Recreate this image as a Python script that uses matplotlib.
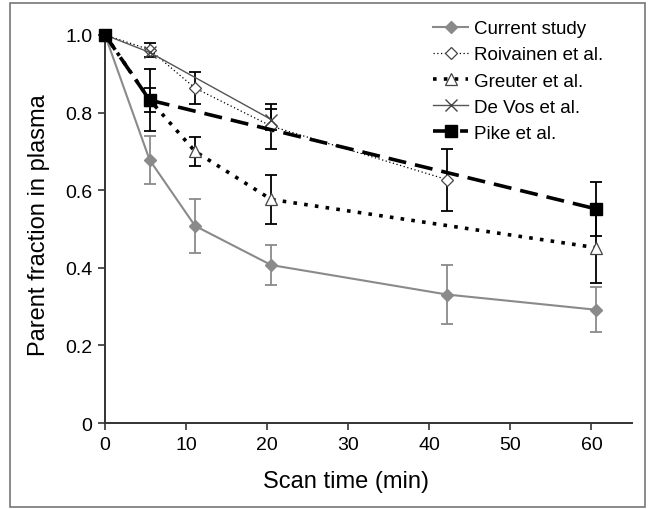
"""Parent fraction in plasma vs scan time, compared with published studies."""

import numpy as np
import matplotlib
matplotlib.use("Agg")
import matplotlib.pyplot as plt
from matplotlib.patches import Rectangle

plt.rcParams["font.family"] = ["Liberation Sans", "DejaVu Sans"]

# data (None = no error bar)
current_t = [0, 5.5, 11.1, 20.5, 42.2, 60.5]
current_y = [1.0, 0.678, 0.508, 0.407, 0.331, 0.292]
current_err = [None, 0.062, 0.07, 0.052, 0.075, 0.058]

roiv_t = [0, 5.5, 11.1, 20.5, 42.2]
roiv_y = [1.0, 0.962, 0.863, 0.765, 0.627]
roiv_err = [None, 0.018, 0.042, 0.058, 0.08]

greut_t = [0, 5.5, 11.1, 20.5, 60.5]
greut_y = [1.0, 0.833, 0.700, 0.576, 0.452]
greut_err = [None, 0.031, 0.037, 0.064, 0.09]

devos_t = [0, 5.5, 20.5]
devos_y = [1.0, 0.955, 0.782]
devos_err = [None, None, 0.027]

pike_t = [0, 5.5, 60.5]
pike_y = [1.0, 0.832, 0.552]
pike_err = [None, 0.079, 0.07]


def errbars(ax, t, y, err, color, lw):
    idx = [i for i, e in enumerate(err) if e is not None]
    if not idx:
        return
    ax.errorbar(np.array(t)[idx], np.array(y)[idx], yerr=np.array([err[i] for i in idx]),
                fmt="none", ecolor=color, elinewidth=lw, capsize=4, capthick=lw, zorder=2)


fig = plt.figure(figsize=(6.49, 5.10), dpi=100)
ax = fig.add_axes([0.1618, 0.1686, 0.812, 0.761])

gray = "#8a8a8a"
errbars(ax, current_t, current_y, current_err, gray, 1.3)
ax.plot(current_t, current_y, color=gray, lw=1.5, marker="D", ms=6, mfc=gray, mec=gray,
        label="Current study", zorder=3, clip_on=False)

errbars(ax, roiv_t, roiv_y, roiv_err, "black", 1.3)
ax.plot(roiv_t, roiv_y, color="black", lw=0.9, ls=(0, (1, 2)), marker="D", ms=6,
        mfc="white", mec="#444444", mew=0.9, label="Roivainen et al.", zorder=4, clip_on=False)

errbars(ax, greut_t, greut_y, greut_err, "black", 1.3)
ax.plot(greut_t, greut_y, color="black", lw=2.6, ls=(0, (1, 2)), marker="^", ms=8,
        mfc="white", mec="#444444", mew=0.9, label="Greuter et al.", zorder=4, clip_on=False)

errbars(ax, devos_t, devos_y, devos_err, "black", 1.3)
ax.plot(devos_t, devos_y, color="#555555", lw=1.0, marker="x", ms=8, mec="#444444",
        mew=1.0, label="De Vos et al.", zorder=4, clip_on=False)

errbars(ax, pike_t, pike_y, pike_err, "black", 1.3)
ax.plot(pike_t, pike_y, color="black", lw=2.6, ls=(0, (5, 2.5)), marker="s", ms=8,
        mfc="black", mec="black", label="Pike et al.", zorder=5, clip_on=False)

ax.set_xlim(0, 65)
ax.set_ylim(0, 1.0)
ax.set_xticks([0, 10, 20, 30, 40, 50, 60])
ax.set_yticks([0, 0.2, 0.4, 0.6, 0.8, 1.0])
ax.set_yticklabels(["0", "0.2", "0.4", "0.6", "0.8", "1.0"])
ax.tick_params(labelsize=14, direction="out", length=5, width=1.2, color="#333333", pad=4)
for side in ["top", "right"]:
    ax.spines[side].set_visible(False)
for side in ["left", "bottom"]:
    ax.spines[side].set_linewidth(1.4)
    ax.spines[side].set_color("#333333")

ax.set_xlabel("Scan time (min)", fontsize=17)
ax.set_ylabel("Parent fraction in plasma", fontsize=17)
ax.xaxis.set_label_coords(0.457, -0.12)
ax.yaxis.set_label_coords(-0.104, 0.513)

ax.legend(loc="upper left", bbox_to_anchor=(0.622, 1.038), frameon=False, fontsize=13.5,
          numpoints=1, handlelength=1.9, handletextpad=0.3, labelspacing=0.48,
          borderaxespad=0, borderpad=0)

fig.patches.append(Rectangle((0.0154, 0.004), 0.978, 0.988, transform=fig.transFigure,
                             fill=False, edgecolor="#777777", lw=1.2))

fig.savefig("out.png", dpi=100)
